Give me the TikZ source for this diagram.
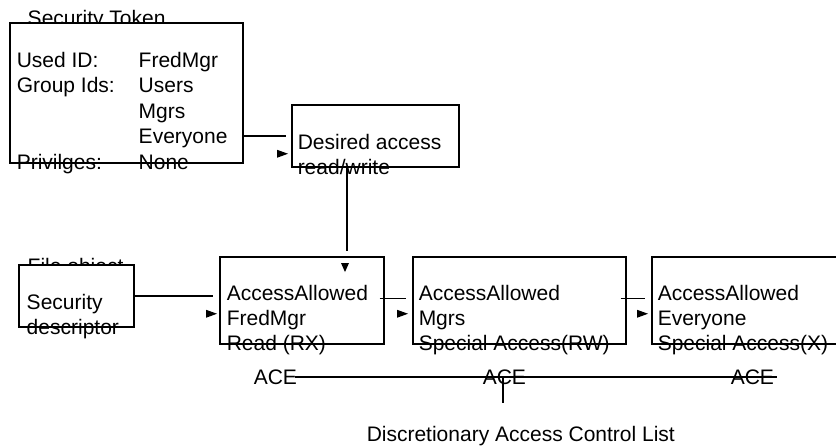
\documentclass[tikz,border=0pt]{standalone}
\usepackage{fontspec}
\setmainfont{Liberation Sans}
\usepackage{tikz}
\usetikzlibrary{positioning}

\tikzset{
  box/.style={draw, fill=white, rectangle, inner sep=0pt, anchor=north west},
  lbl/.style={inner sep=0pt, anchor=base west, align=left,
    font=\fontsize{10.5}{12.5}\selectfont},
  tipR/.pic={\fill (0,0) -- (-11,-4) -- (-11,4) -- cycle;},
  tipD/.pic={\fill (0,0) -- (-4,-9) -- (4,-9) -- cycle;}
}

\begin{document}
\begin{tikzpicture}[x=0.5pt, y=-0.5pt, line width=0.75pt]
  \useasboundingbox (0,0) rectangle (836,447);

  % security token
  \node[lbl] (tokentitle) at (27,25) { Security Token };
  \node[box, minimum width=116.5pt, minimum height=70pt] (token) at (9,22) {};
  \node[lbl] (tokentext) at (16,67) {\renewcommand{\arraystretch}{1}%
    \fontsize{10.5}{12.75}\selectfont
    \begin{tabular}[t]{@{}p{61pt}@{}l@{}}
      Used ID: & FredMgr \\
      Group Ids: & Users \\
      & Mgrs \\
      & Everyone \\
      Privilges: & None
    \end{tabular}};

  % base of a multi-line text is its last line
  \node[box, minimum width=83.5pt, minimum height=31pt] (desired) at (291,104) {};
  \node[lbl] (desiredtext) at (297,174) { Desired access\\read/write };

  % file object
  \node[lbl] (filetitle) at (27,273) { File object };
  \node[box, minimum width=57.5pt, minimum height=31pt] (fileobj) at (18,264) {};
  \node[lbl] (filetext) at (26,334) { Security\\descriptor };

  % the three ACEs
  \node[box, minimum width=82pt, minimum height=43.5pt] (ace1) at (219,256) {};
  \node[lbl] (acetext1) at (226,350) { AccessAllowed\\FredMgr\\Read (RX) };
  \node[box, minimum width=106.5pt, minimum height=43.5pt] (ace2) at (412,256) {};
  \node[lbl] (acetext2) at (418,350) { AccessAllowed\\Mgrs\\Special Access(RW) };
  \node[box, minimum width=125pt, minimum height=43.5pt] (ace3) at (651,256) {};
  \node[lbl] (acetext3) at (657,350) { AccessAllowed\\Everyone\\Special Access(X) };

  % connectors
  \draw (desired.west -| token.east) -- ([xshift=-2.5pt]desired.west);
  \pic at ([shift={(-1.5pt,-9pt)}]desired.west) {tipR};

  \coordinate (dropin) at ([shift={(64pt,2.5pt)}]ace1.north west);
  \draw (desired.south -| dropin) -- (dropin);
  \pic at ([shift={(63pt,-8pt)}]ace1.north west) {tipD};

  \draw (fileobj.east) -- ([xshift=-3pt]ace1.west |- fileobj.east);
  \pic at ([shift={(-1pt,-6.75pt)}]ace1.west) {tipR};

  \draw ([shift={(-2.5pt,1pt)}]ace1.east) -- ([shift={(-3pt,1pt)}]ace2.west);
  \pic at ([shift={(-2pt,-6.75pt)}]ace2.west) {tipR};

  \draw ([shift={(-3pt,1pt)}]ace2.east) -- ([shift={(-3pt,1pt)}]ace3.west);
  \pic at ([shift={(-1.5pt,-6.75pt)}]ace3.west) {tipR};

  % ACE list
  \node[lbl] (acelbl1) at (253,384) { ACE };
  \node[lbl] (acelbl2) at (482,384) { ACE };
  \node[lbl] (acelbl3) at (730,384) { ACE };
  \draw ([xshift=-4.5pt]acelbl1.east) -- ([xshift=-2pt]acelbl3.east);
  \draw ([xshift=10.5pt]acelbl2.west) -- ++(0,26);

  \node[lbl] (dacl) at (366,441) { Discretionary Access Control List };
\end{tikzpicture}
\end{document}
